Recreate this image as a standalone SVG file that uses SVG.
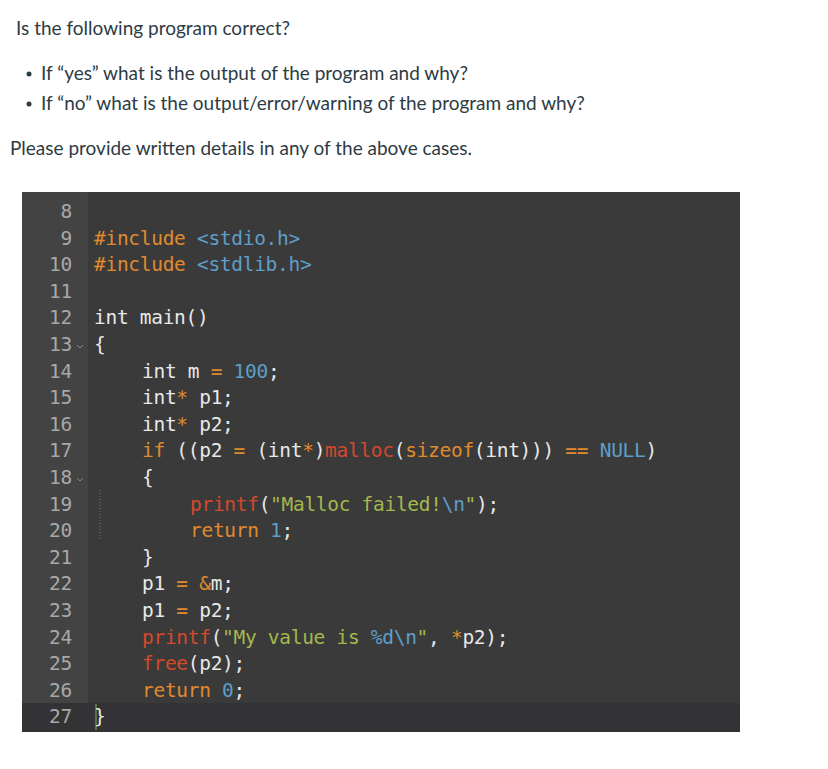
<svg xmlns="http://www.w3.org/2000/svg" width="828" height="769" viewBox="0 0 828 769">
<style>
.q{font-family:Lato,"Liberation Sans",sans-serif;font-size:19px;fill:#2d3b45}
.c{font-family:"DejaVu Sans Mono","Liberation Mono",monospace;font-size:19.5px;fill:#e8e8e8;letter-spacing:-0.3px}
.n{font-family:"DejaVu Sans Mono","Liberation Mono",monospace;font-size:19.5px;fill:#a8a8a8;text-anchor:end;letter-spacing:-0.3px}
.o{fill:#e08a2e}.b{fill:#5e9ec8}.r{fill:#d4492c}.g{fill:#a5b84e}
</style>
<rect width="828" height="769" fill="#fff"/>
<text class="q" x="16" y="35">Is the following program correct?</text>
<circle cx="29" cy="74" r="2.5" fill="#2d3b45"/>
<text class="q" x="41" y="80">If “yes” what is the output of the program and why?</text>
<circle cx="29" cy="104" r="2.5" fill="#2d3b45"/>
<text class="q" x="41" y="110">If “no” what is the output/error/warning of the program and why?</text>
<text class="q" x="10" y="155">Please provide written details in any of the above cases.</text>
<g id="code">
<rect x="22" y="192" width="718" height="540" fill="#3a3a3a"/>
<rect x="22" y="192" width="66" height="540" fill="#434343"/>
<rect x="22" y="703" width="718" height="29" fill="#333335"/>
<line x1="100" y1="490" x2="100" y2="540" stroke="#777" stroke-dasharray="1,2"/>
<line x1="96" y1="704" x2="96" y2="730" stroke="#6a8a3a" stroke-width="1.5"/>
<g class="n">
<text x="72" y="218">8</text><text x="72" y="245">9</text><text x="72" y="271">10</text><text x="72" y="298">11</text>
<text x="72" y="324">12</text><text x="72" y="351">13</text><text x="72" y="378">14</text><text x="72" y="404">15</text>
<text x="72" y="431">16</text><text x="72" y="457">17</text><text x="72" y="484">18</text><text x="72" y="511">19</text>
<text x="72" y="537">20</text><text x="72" y="564">21</text><text x="72" y="590">22</text><text x="72" y="617">23</text>
<text x="72" y="644">24</text><text x="72" y="670">25</text><text x="72" y="697">26</text><text x="72" y="723">27</text>
</g>
<path d="M77 345 l3 3 l3 -3 M77 478 l3 3 l3 -3" fill="none" stroke="#888"/>
<text class="c" xml:space="preserve" x="94" y="245"><tspan class="o">#include</tspan> <tspan class="b">&lt;stdio.h&gt;</tspan></text>
<text class="c" xml:space="preserve" x="94" y="271"><tspan class="o">#include</tspan> <tspan class="b">&lt;stdlib.h&gt;</tspan></text>
<text class="c" x="94" y="324">int main()</text>
<text class="c" x="94" y="351">{</text>
<text class="c" xml:space="preserve" x="142" y="378">int m <tspan class="o">=</tspan> <tspan class="b">100</tspan>;</text>
<text class="c" xml:space="preserve" x="142" y="404">int<tspan class="o">*</tspan> p1;</text>
<text class="c" xml:space="preserve" x="142" y="431">int<tspan class="o">*</tspan> p2;</text>
<text class="c" xml:space="preserve" x="142" y="457"><tspan class="o">if</tspan> ((p2 <tspan class="o">=</tspan> (int<tspan class="o">*</tspan>)<tspan class="r">malloc</tspan>(<tspan class="o">sizeof</tspan>(int))) <tspan class="o">==</tspan> <tspan class="b">NULL</tspan>)</text>
<text class="c" x="142" y="484">{</text>
<text class="c" xml:space="preserve" x="190" y="511"><tspan class="r">printf</tspan>(<tspan class="g">"Malloc failed!</tspan><tspan class="b">\n</tspan><tspan class="g">"</tspan>);</text>
<text class="c" xml:space="preserve" x="190" y="537"><tspan class="o">return</tspan> <tspan class="b">1</tspan>;</text>
<text class="c" x="142" y="564">}</text>
<text class="c" xml:space="preserve" x="142" y="590">p1 <tspan class="o">=</tspan> <tspan class="o">&amp;</tspan>m;</text>
<text class="c" xml:space="preserve" x="142" y="617">p1 <tspan class="o">=</tspan> p2;</text>
<text class="c" xml:space="preserve" x="142" y="644"><tspan class="r">printf</tspan>(<tspan class="g">"My value is </tspan><tspan class="b">%d\n</tspan><tspan class="g">"</tspan>, <tspan class="o">*</tspan>p2);</text>
<text class="c" xml:space="preserve" x="142" y="670"><tspan class="r">free</tspan>(p2);</text>
<text class="c" xml:space="preserve" x="142" y="697"><tspan class="o">return</tspan> <tspan class="b">0</tspan>;</text>
<text class="c" x="94" y="723">}</text>
</g>
</svg>
